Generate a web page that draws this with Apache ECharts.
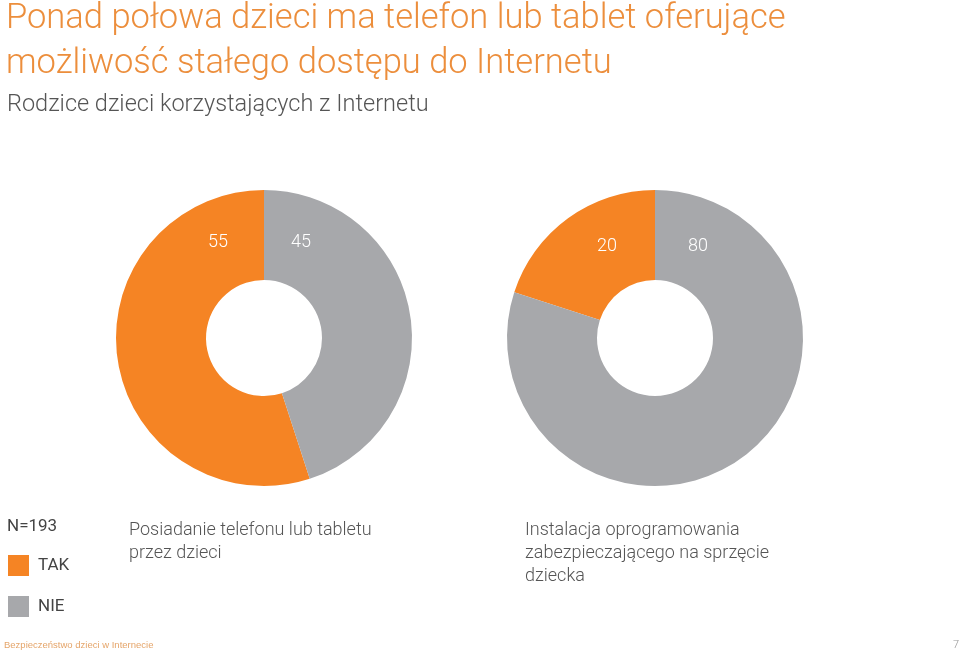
<!DOCTYPE html>
<html><head><meta charset="utf-8">
<script src="https://cdn.jsdelivr.net/npm/echarts@6/dist/echarts.min.js"></script>
<style>html,body{margin:0;padding:0;background:#fff}#c{width:959px;height:651px}</style>
</head><body><div id="c"></div>
<script>
const categories = ['TAK', 'NIE'];
const phoneValues = [55, 45];
const softwareValues = [20, 80];
const colors = ['#F58424', '#A7A8AB'];

const chart = echarts.init(document.getElementById('c'));
const FONT = 'Roboto, "Liberation Sans", sans-serif';

function pieSeries(name, values, cx, offs, ly) {
  return {
    type: 'pie', name: name,
    center: [cx, 338], radius: [58, 148],
    clockwise: false, startAngle: 90,
    silent: true,
    data: categories.map((c, i) => ({ name: c, value: values[i], itemStyle: { color: colors[i] } })),
    label: { show: true, position: 'inside', formatter: '{c}', color: '#fff', fontFamily: FONT, fontWeight: 300, fontSize: 18 },
    labelLine: { show: false },
    labelLayout: function (p) {
      return { x: cx + offs[p.dataIndex], y: ly, align: 'center', verticalAlign: 'middle' };
    }
  };
}

chart.setOption({
  animation: false,
  color: colors,
  title: [
    { text: 'Ponad połowa dzieci ma telefon lub tablet oferujące\nmożliwość stałego dostępu do Internetu', left: 6, top: -3, padding: 0,
      textStyle: { color: '#EC8E3C', fontFamily: FONT, fontWeight: 300, fontSize: 34.5, lineHeight: 45 } },
    { text: 'Rodzice dzieci korzystających z Internetu', left: 7, top: 93, padding: 0,
      textStyle: { color: '#555', fontFamily: FONT, fontWeight: 300, fontSize: 23.5 } },
    { text: 'N=193', left: 7, top: 518, padding: 0,
      textStyle: { color: '#444', fontFamily: FONT, fontWeight: 400, fontSize: 17 } },
    { text: 'Posiadanie telefonu lub tabletu\nprzez dzieci', left: 129, top: 519, padding: 0,
      textStyle: { color: '#555', fontFamily: FONT, fontWeight: 300, fontSize: 18, lineHeight: 23 } },
    { text: 'Instalacja oprogramowania\nzabezpieczającego na sprzęcie\ndziecka', left: 525, top: 519, padding: 0,
      textStyle: { color: '#555', fontFamily: FONT, fontWeight: 300, fontSize: 18, lineHeight: 23 } },
    { text: 'Bezpieczeństwo dzieci w Internecie', left: 4, top: 640, padding: 0,
      textStyle: { color: '#E5A56A', fontFamily: '"Liberation Sans", sans-serif', fontWeight: 400, fontSize: 9.5 } },
    { text: '7', left: 953, top: 640, padding: 0,
      textStyle: { color: '#999', fontFamily: FONT, fontWeight: 300, fontSize: 11 } }
  ],
  legend: {
    orient: 'vertical', left: 8, top: 555, padding: 0,
    data: categories,
    icon: 'rect', itemWidth: 21, itemHeight: 21, itemGap: 20,
    selectedMode: false,
    textStyle: { color: '#444', fontFamily: FONT, fontSize: 17, padding: [0, 0, 0, 4] }
  },
  series: [
    pieSeries('Posiadanie telefonu lub tabletu przez dzieci', phoneValues, 264, [-46, 37], 242),
    pieSeries('Instalacja oprogramowania zabezpieczającego', softwareValues, 655, [-48, 43], 246)
  ]
});
</script></body></html>
